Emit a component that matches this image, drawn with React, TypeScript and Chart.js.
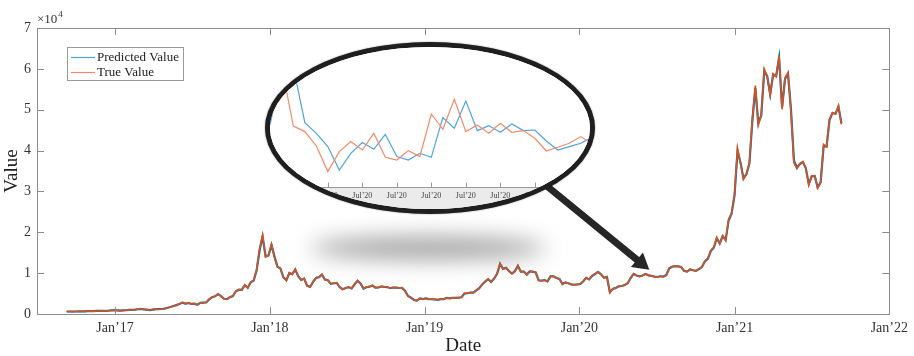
import React, { useEffect, useRef } from "react";
import { Chart, registerables } from "chart.js";
Chart.register(...registerables);

// ---------- main chart data (weekly) ----------
const START_DATE = "2016-09-09";
const STEP_DAYS = 7;
const X_MIN_DATE = "2016-07-01";
const X_MAX_DATE = "2022-01-01";
const xTickYears = [2017, 2018, 2019, 2020, 2021, 2022];
const yTickValues = [0, 1, 2, 3, 4, 5, 6, 7]; // x 10^4
const seriesNames = ["Predicted Value", "True Value"];

const trueValues = [
  625, 607, 600, 609, 617, 637, 630, 688, 703, 715, 750, 740, 770, 773, 785, 900, 962,
  895, 820, 895, 918, 1020, 995, 1055, 1180, 1275, 1105, 1070, 935, 1080, 1190, 1180, 1235, 1345, 1550, 1720, 1970, 2200, 2480, 2820, 2510, 2700, 2480, 2550, 2240, 2760, 2780, 2850, 3650, 4150, 4350, 4920, 4320, 3690, 3660, 4160, 4420, 5630, 5970, 5890, 7150, 6340, 7790, 8240, 10900, 16000, 19300, 13900, 14400,
  17100, 13900, 11500, 11200, 8900, 8200, 10100, 9700, 11000, 9200, 8300, 8700, 6900, 6600, 7900, 8850, 9000, 9700, 8400, 8240, 7350, 7540, 7620, 6500, 6050, 6370, 6600, 6240, 7330, 8180, 7420, 6200, 6580, 6700, 7000, 6450, 6500, 6750, 6630, 6600, 6300, 6500, 6450, 6350, 6400, 5600, 4350, 3950, 3400, 3250, 3850, 3650,
  3850, 3650, 3600, 3570, 3470, 3650, 3620, 3980, 3820, 3950, 3940, 3990, 4100, 5050, 5070, 5270, 5200, 5800, 6350, 7300, 7980, 8550, 7800, 8700, 9900, 12400, 11000, 11350, 10500, 9850, 10500, 11850, 10300, 10400, 9600, 10450, 10350, 10150, 8200, 8150, 8300, 7950, 9250, 9250, 8800, 8600, 7300, 7750, 7500, 7250, 7150, 7250,
  7350, 8000, 8900, 8450, 9350, 9800, 10350, 9700, 8800, 9100, 5200, 6200, 6400, 6800, 6850, 7100, 7550, 8850, 9850, 9400, 9200, 9450, 9800, 9450, 9350, 9150, 9050, 9250, 9150, 9550, 11300, 11600, 11750, 11650, 11500, 10500, 10350, 10950, 10700, 10550, 11050, 11500, 12950, 13550, 15550, 16300, 18700, 17150, 19150, 18050, 23150, 24700,
  29400, 40600, 36800, 33000, 34300, 37000, 47900, 55900, 46200, 48800, 60000, 58100, 53500, 58800, 58100, 63200, 50100, 57800, 59000, 49700, 37000, 35600, 36800, 37300, 35600, 31600, 33800, 33800, 30800, 32300, 41500, 40900, 47800, 49300, 48900, 51000, 46400,
];

const predictedValues = [
  618, 610, 603, 607, 619, 633, 632, 682, 700, 717, 746, 742, 768, 775, 790, 892, 955,
  900, 828, 889, 915, 1012, 1000, 1050, 1170, 1262, 1120, 1075, 945, 1070, 1182, 1185, 1228, 1330, 1530, 1705, 1950, 2180, 2460, 2790, 2540, 2680, 2500, 2540, 2270, 2730, 2790, 2830, 3580, 4110, 4330, 4870, 4360, 3730, 3650, 4120, 4400, 5560, 5950, 5900, 7050, 6400, 7720, 8210, 10700, 15600, 18900, 14200, 14300,
  16900, 14100, 11600, 11150, 9000, 8250, 10000, 9750, 10900, 9250, 8350, 8650, 6950, 6620, 7850, 8800, 9020, 9650, 8450, 8250, 7380, 7520, 7600, 6540, 6080, 6350, 6580, 6260, 7280, 8120, 7450, 6240, 6560, 6690, 6980, 6470, 6490, 6730, 6640, 6590, 6320, 6490, 6460, 6360, 6390, 5650, 4420, 3980, 3430, 3270, 3820, 3670,
  3840, 3660, 3610, 3575, 3480, 3640, 3625, 3960, 3830, 3945, 3945, 3985, 4090, 5000, 5080, 5250, 5210, 5770, 6320, 7250, 7950, 8520, 7850, 8680, 9850, 12250, 11050, 11320, 10520, 9880, 10480, 11780, 10350, 10380, 9650, 10420, 10360, 10160, 8260, 8160, 8290, 7980, 9200, 9240, 8820, 8610, 7350, 7730, 7510, 7260, 7160, 7240,
  7340, 7960, 8860, 8470, 9310, 9780, 10320, 9720, 8850, 9080, 5350, 6150, 6390, 6780, 6860, 7090, 7520, 8800, 9800, 9420, 9210, 9440, 9780, 9460, 9360, 9160, 9060, 9240, 9160, 9520, 11200, 11580, 11730, 11660, 11510, 10560, 10370, 10920, 10710, 10560, 11020, 11480, 12850, 13500, 15400, 16250, 18550, 17250, 19080, 18100, 22900, 24550,
  29100, 39900, 37100, 33200, 34200, 36800, 47300, 55300, 46700, 48600, 59500, 58200, 53800, 58600, 58200, 62700, 50600, 57500, 58900, 50100, 37600, 35800, 36700, 37200, 35700, 31800, 33700, 33800, 31000, 32200, 41000, 41000, 47500, 49200, 49000, 50700, 46700,
];

// ---------- inset (magnified) data ----------
const insetSteps = [-1, 0, 1, 2, 3, 4, 5, 6, 7, 8, 9, 10, 11, 12, 13, 14, 15, 16, 17, 18, 19, 20, 21, 22, 23, 24, 25, 26, 27, 28];
const insetTrue = [9500, 10033, 10063, 9473, 9417, 9273, 9017, 9217, 9317, 9233, 9400, 9160, 9133, 9227, 9167, 9593, 9440, 9740, 9417, 9483, 9400, 9500, 9410, 9427, 9350, 9223, 9260, 9300, 9367, 9293];
const insetPredicted = [9700, 9500, 10033, 10063, 9507, 9400, 9267, 9033, 9200, 9307, 9240, 9390, 9167, 9133, 9200, 9160, 9557, 9450, 9723, 9427, 9477, 9410, 9493, 9427, 9433, 9323, 9233, 9267, 9300, 9360];
const insetTickSteps = [2, 5, 8, 11, 14, 17, 20, 23, 26];
const insetTickLabel = "Jul\u201920";

// annotation anchors (data coordinates)
const arrowFrom = { date: "2019-10-13", value: 31600 };
const arrowTo = { date: "2020-06-14", value: 10800 };
const shadowCenter = { date: "2019-01-10", value: 16150 };

const SERIF = "'Liberation Serif', 'Times New Roman', serif";
const MAIN_BLUE = "#0072BD";
const MAIN_ORANGE = "#D95319";
const THIN_BLUE = "#4DA3DB";
const THIN_ORANGE = "#EE8C6A";
const AXIS_GRAY = "#8c8c8c";

const toTime = (s: string) => Date.parse(s + "T00:00:00Z");
const DAY = 86400000;

const mainDecor = {
  id: "mainDecor",
  beforeDatasetsDraw(chart: any) {
    const { ctx } = chart;
    const xs = chart.scales.x, ys = chart.scales.y;
    const cx = xs.getPixelForValue(toTime(shadowCenter.date));
    const cy = ys.getPixelForValue(shadowCenter.value);
    ctx.save();
    ctx.filter = "blur(11px)";
    ctx.fillStyle = "rgba(135,135,135,0.8)";
    ctx.beginPath();
    ctx.ellipse(cx, cy, 118, 11, 0, 0, Math.PI * 2);
    ctx.fill();
    ctx.restore();
  },
  afterDraw(chart: any) {
    const { ctx, chartArea: a } = chart;
    const xs = chart.scales.x, ys = chart.scales.y;
    ctx.save();
    // frame
    ctx.strokeStyle = AXIS_GRAY;
    ctx.lineWidth = 1;
    ctx.strokeRect(Math.round(a.left) + 0.5, Math.round(a.top) + 0.5, Math.round(a.right - a.left), Math.round(a.bottom - a.top));
    const TL = 7;
    ctx.beginPath();
    xs.ticks.forEach((t: any) => {
      const px = Math.round(xs.getPixelForValue(t.value)) + 0.5;
      ctx.moveTo(px, a.bottom); ctx.lineTo(px, a.bottom - TL);
      ctx.moveTo(px, a.top); ctx.lineTo(px, a.top + TL);
    });
    ys.ticks.forEach((t: any) => {
      const py = Math.round(ys.getPixelForValue(t.value)) + 0.5;
      ctx.moveTo(a.left, py); ctx.lineTo(a.left + TL, py);
      ctx.moveTo(a.right, py); ctx.lineTo(a.right - TL, py);
    });
    ctx.stroke();

    // exponent label
    ctx.fillStyle = "#333";
    ctx.textBaseline = "alphabetic";
    ctx.textAlign = "left";
    ctx.font = `13px ${SERIF}`;
    ctx.fillText("\u00d710", a.left, a.top - 5);
    const w = ctx.measureText("\u00d710").width;
    ctx.font = `9px ${SERIF}`;
    ctx.fillText("4", a.left + w + 1, a.top - 11);

    // legend
    const lx = a.left + 30, ly = a.top + 19, lw = 116, lh = 33;
    ctx.fillStyle = "#fff";
    ctx.fillRect(lx, ly, lw, lh);
    ctx.strokeStyle = "#9a9a9a";
    ctx.strokeRect(lx + 0.5, ly + 0.5, lw, lh);
    const legendColors = [THIN_BLUE, THIN_ORANGE];
    ctx.font = `13px ${SERIF}`;
    ctx.textBaseline = "middle";
    chart.data.datasets.forEach((ds: any) => {
      const idx = seriesNames.indexOf(ds.label);
      const ry = ly + 10.5 + idx * 15;
      ctx.strokeStyle = legendColors[idx];
      ctx.lineWidth = 1.2;
      ctx.beginPath();
      ctx.moveTo(lx + 4, ry); ctx.lineTo(lx + 28, ry);
      ctx.stroke();
      ctx.fillStyle = "#222";
      ctx.fillText(ds.label, lx + 30, ry + 0.5);
    });

    // magnifier handle arrow
    const x0 = xs.getPixelForValue(toTime(arrowFrom.date));
    const y0 = ys.getPixelForValue(arrowFrom.value);
    const x1 = xs.getPixelForValue(toTime(arrowTo.date));
    const y1 = ys.getPixelForValue(arrowTo.value);
    const len = Math.hypot(x1 - x0, y1 - y0);
    const dx = (x1 - x0) / len, dy = (y1 - y0) / len;
    const headLen = 16, headHalf = 9.5;
    const bx = x1 - dx * headLen, by = y1 - dy * headLen;
    ctx.strokeStyle = "#262626";
    ctx.fillStyle = "#262626";
    ctx.lineWidth = 7;
    ctx.lineCap = "butt";
    ctx.beginPath();
    ctx.moveTo(x0, y0); ctx.lineTo(bx + dx * 2, by + dy * 2);
    ctx.stroke();
    ctx.beginPath();
    ctx.moveTo(x1, y1);
    ctx.lineTo(bx - dy * headHalf, by + dx * headHalf);
    ctx.lineTo(bx + dy * headHalf, by - dx * headHalf);
    ctx.closePath();
    ctx.fill();
    ctx.restore();
  },
};

const insetDecor = {
  id: "insetDecor",
  beforeDraw(chart: any) {
    const { ctx, chartArea: a, width, height } = chart;
    ctx.save();
    ctx.fillStyle = "#ffffff";
    ctx.fillRect(0, 0, width, height);
    ctx.fillStyle = "#ebebeb";
    ctx.fillRect(0, a.bottom, width, height - a.bottom);
    ctx.restore();
  },
  beforeDatasetsDraw(chart: any) {
    const { ctx, chartArea: a, width } = chart;
    const xs = chart.scales.x;
    ctx.save();
    ctx.strokeStyle = "#9a9a9a";
    ctx.lineWidth = 1;
    ctx.beginPath();
    const by = Math.round(a.bottom) + 0.5;
    ctx.moveTo(0, by); ctx.lineTo(width, by);
    xs.ticks.forEach((t: any) => {
      const px = Math.round(xs.getPixelForValue(t.value)) + 0.5;
      ctx.moveTo(px, by); ctx.lineTo(px, by - 5);
    });
    ctx.stroke();
    ctx.restore();
  },
};

export default function App() {
  const mainRef = useRef<HTMLCanvasElement>(null);
  const insetRef = useRef<HTMLCanvasElement>(null);

  useEffect(() => {
    const start = toTime(START_DATE);
    const xVals = trueValues.map((_, i) => start + i * STEP_DAYS * DAY);
    const main = new Chart(mainRef.current as HTMLCanvasElement, {
      type: "line",
      data: {
        datasets: [
          {
            label: seriesNames[0],
            data: xVals.map((x, i) => ({ x, y: predictedValues[i] })),
            borderColor: MAIN_BLUE,
            borderWidth: 2.2,
            pointRadius: 0,
            tension: 0,
            order: 1,
          },
          {
            label: seriesNames[1],
            data: xVals.map((x, i) => ({ x, y: trueValues[i] })),
            borderColor: MAIN_ORANGE,
            borderWidth: 1.6,
            pointRadius: 0,
            tension: 0,
            order: 0,
          },
        ],
      },
      options: {
        animation: false,
        responsive: false,
        devicePixelRatio: 1,
        layout: { padding: { left: 0, top: 28, right: 21, bottom: 0 } },
        plugins: { legend: { display: false }, tooltip: { enabled: false }, title: { display: false } },
        scales: {
          x: {
            type: "linear",
            min: toTime(X_MIN_DATE),
            max: toTime(X_MAX_DATE),
            afterBuildTicks: (s: any) => {
              s.ticks = xTickYears.map((y) => ({ value: Date.UTC(y, 0, 1) }));
            },
            afterFit: (s: any) => { s.height = 42; },
            ticks: {
              autoSkip: false,
              maxRotation: 0,
              padding: 6,
              color: "#333",
              font: { family: SERIF, size: 14 },
              callback: (v: any) => "Jan\u2019" + String(new Date(v).getUTCFullYear()).slice(2),
            },
            grid: { display: false, drawTicks: false },
            border: { display: false },
            title: { display: true, text: "Date", color: "#222", font: { family: SERIF, size: 19, lineHeight: 1 }, padding: { top: 0, bottom: 0 } },
          },
          y: {
            type: "linear",
            min: 0,
            max: 70000,
            afterBuildTicks: (s: any) => {
              s.ticks = yTickValues.map((v) => ({ value: v * 10000 }));
            },
            afterFit: (s: any) => { s.width = 37; },
            ticks: {
              padding: 6,
              color: "#333",
              font: { family: SERIF, size: 14 },
              callback: (v: any) => String(Math.round(v / 10000)),
            },
            grid: { display: false, drawTicks: false },
            border: { display: false },
            title: { display: true, text: "Value", color: "#222", font: { family: SERIF, size: 19, lineHeight: 1.2 }, padding: { top: 1, bottom: 0 } },
          },
        },
      },
      plugins: [mainDecor],
    } as any);

    const inset = new Chart(insetRef.current as HTMLCanvasElement, {
      type: "line",
      data: {
        datasets: [
          {
            label: seriesNames[0],
            data: insetSteps.map((k, i) => ({ x: k, y: insetPredicted[i] })),
            borderColor: THIN_BLUE,
            borderWidth: 1.2,
            pointRadius: 0,
            tension: 0,
            order: 1,
          },
          {
            label: seriesNames[1],
            data: insetSteps.map((k, i) => ({ x: k, y: insetTrue[i] })),
            borderColor: THIN_ORANGE,
            borderWidth: 1.2,
            pointRadius: 0,
            tension: 0,
            order: 0,
          },
        ],
      },
      options: {
        animation: false,
        responsive: false,
        devicePixelRatio: 1,
        layout: { padding: 0 },
        plugins: { legend: { display: false }, tooltip: { enabled: false } },
        scales: {
          x: {
            type: "linear",
            min: -0.03,
            max: 27.8,
            afterBuildTicks: (s: any) => {
              s.ticks = insetTickSteps.map((v) => ({ value: v }));
            },
            afterFit: (s: any) => { s.height = 22; },
            ticks: {
              autoSkip: false,
              maxRotation: 0,
              padding: 4,
              color: "#444",
              font: { family: SERIF, size: 8 },
              callback: () => insetTickLabel,
            },
            grid: { display: false, drawTicks: false },
            border: { display: false },
          },
          y: { display: false, min: 8863, max: 10263 },
        },
      },
      plugins: [insetDecor],
    } as any);

    return () => {
      main.destroy();
      inset.destroy();
    };
  }, []);

  return (
    <div style={{ position: "fixed", left: 0, top: 0, width: 914, height: 356, background: "#fff", overflow: "hidden" }}>
      <canvas ref={mainRef} width={914} height={356} style={{ position: "absolute", left: 0, top: 0, width: 914, height: 356 }} />
      <div
        style={{
          position: "absolute",
          left: 265,
          top: 42,
          width: 330,
          height: 172,
          boxSizing: "border-box",
          border: "5px solid #1f1f1f",
          borderRadius: "50%",
          overflow: "hidden",
          background: "#fff",
          boxShadow: "0 0 1.5px rgba(0,0,0,0.6)",
        }}
      >
        <canvas ref={insetRef} width={320} height={162} style={{ display: "block", width: 320, height: 162 }} />
      </div>
    </div>
  );
}
